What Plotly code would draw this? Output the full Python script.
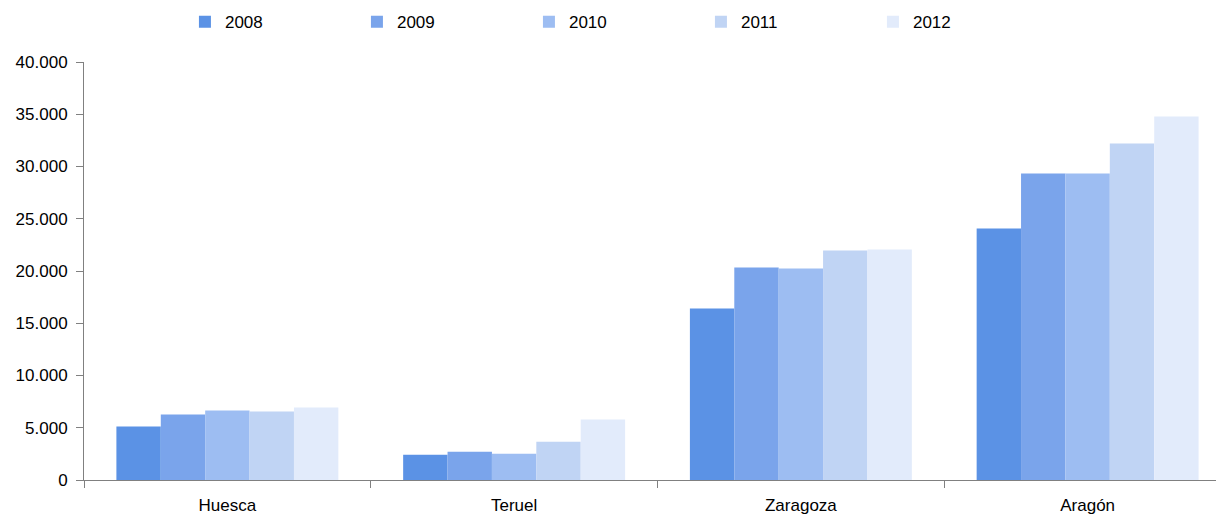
import plotly.graph_objects as go

categories = ["Huesca", "Teruel", "Zaragoza", "Aragón"]
years = ["2008", "2009", "2010", "2011", "2012"]
v2008 = [5120, 2420, 16410, 24070]
v2009 = [6270, 2710, 20330, 29330]
v2010 = [6650, 2520, 20240, 29330]
v2011 = [6550, 3670, 21960, 32200]
v2012 = [6940, 5780, 22060, 34780]
series = [v2008, v2009, v2010, v2011, v2012]
colors = ["#5B92E5", "#7AA4EB", "#9DBDF2", "#C0D4F4", "#E2EBFB"]

fig = go.Figure()
for y, vals, c in zip(years, series, colors):
    fig.add_trace(go.Bar(name=y, x=categories, y=vals, marker=dict(color=c, line=dict(width=0))))

fig.update_layout(
    width=1223, height=507,
    barmode="group", bargap=0.226, bargroupgap=0,
    separators=",.",
    paper_bgcolor="white", plot_bgcolor="white",
    margin=dict(l=76, r=0, t=54, b=35, autoexpand=False),
    font=dict(family="Liberation Sans, Arial, sans-serif", size=17, color="#000"),
    legend=dict(orientation="h", x=0.088, y=0.972, yanchor="middle", xanchor="left",
                yref="container", entrywidth=127, entrywidthmode="pixels",
                itemwidth=30, font=dict(size=17)),
    showlegend=True,
)
fig.update_xaxes(showline=True, linecolor="#808080", linewidth=1, ticks="outside",
                 tickson="boundaries", ticklen=7, tickcolor="#808080", showgrid=False,
                 automargin=False, ticklabelstandoff=10)
fig.update_yaxes(range=[0, 40000], dtick=5000, tickformat=",", showline=True,
                 linecolor="#808080", linewidth=1, ticks="outside", ticklen=7,
                 tickcolor="#808080", showgrid=False, zeroline=False, automargin=False,
                 ticklabelstandoff=5)

fig.write_html("out.html")
